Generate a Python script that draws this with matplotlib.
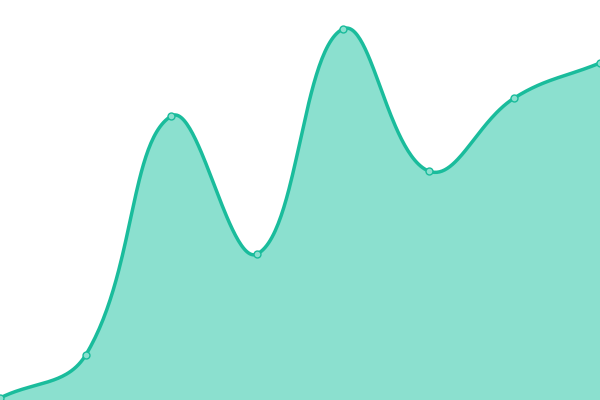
import numpy as np
import matplotlib
matplotlib.use("Agg")
import matplotlib.pyplot as plt

categories = list(range(8))
values = [2, 45, 284, 146, 371, 229, 302, 337]

LINE = "#1abc9c"
FILL = "#8be0cf"

fig = plt.figure(figsize=(6, 4), dpi=100)
ax = fig.add_axes([0, 0, 1, 1])
ax.set_xlim(0, 7)
ax.set_ylim(0, 400)
ax.axis("off")

# Chart.js-like spline in pixel space
xs = np.array(categories, dtype=float)
ys = np.array(values, dtype=float)
px = xs * 600 / 7
py = ys
n = len(px)
t = 0.4
cp_prev = np.zeros((n, 2))
cp_next = np.zeros((n, 2))
for i in range(n):
    p = np.array([px[i], py[i]])
    a = np.array([px[max(i - 1, 0)], py[max(i - 1, 0)]])
    b = np.array([px[min(i + 1, n - 1)], py[min(i + 1, n - 1)]])
    d01 = np.hypot(*(p - a))
    d12 = np.hypot(*(b - p))
    tot = d01 + d12
    s01 = d01 / tot if tot else 0
    s12 = d12 / tot if tot else 0
    cp_prev[i] = p - t * s01 * (b - a)
    cp_next[i] = p + t * s12 * (b - a)

cx, cy = [], []
tt = np.linspace(0, 1, 60)
for i in range(n - 1):
    P0 = np.array([px[i], py[i]])
    P1 = cp_next[i]
    P2 = cp_prev[i + 1]
    P3 = np.array([px[i + 1], py[i + 1]])
    seg = ((1 - tt)[:, None] ** 3 * P0 + 3 * ((1 - tt) ** 2 * tt)[:, None] * P1
           + 3 * ((1 - tt) * tt ** 2)[:, None] * P2 + (tt ** 3)[:, None] * P3)
    cx.extend(seg[:, 0]); cy.extend(seg[:, 1])
cx = np.array(cx) * 7 / 600
cy = np.array(cy)

ax.fill_between(cx, 0, cy, color=FILL, lw=0)
ax.plot(cx, cy, color=LINE, lw=2.5, solid_capstyle="round")
ax.plot(xs, ys, "o", ms=5, mfc=FILL, mec=LINE, mew=1, clip_on=False)

fig.savefig("out.png", dpi=100)
